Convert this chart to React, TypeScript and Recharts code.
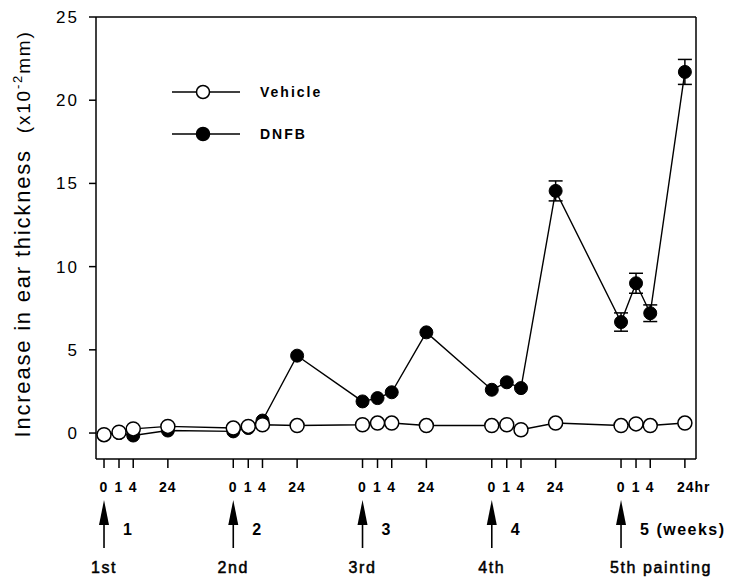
import React from "react";
import { LineChart, Line, XAxis, YAxis, ErrorBar, ReferenceLine, Legend } from "recharts";

// five weekly paintings, ear measured 0, 1, 4 and 24 hr after each one
const weeks = [1, 2, 3, 4, 5];
const hours = [0, 1, 4, 24];
// where the 0/1/4/24 hr ticks sit inside one week on the x axis (in weeks)
const hourStep = [0, 0.116, 0.226, 0.494];
const weekLabels = ["1", "2", "3", "4", "5 (weeks)"];
const paintingLabels = ["1st", "2nd", "3rd", "4th", "5th painting"];

const vehicle = [-0.1, 0.05, 0.25, 0.4, 0.3, 0.4, 0.5, 0.45, 0.5, 0.6, 0.6, 0.45, 0.45, 0.5, 0.2, 0.6, 0.45, 0.55, 0.45, 0.6];
const dnfb = [-0.1, 0.0, -0.15, 0.15, 0.1, 0.3, 0.75, 4.65, 1.9, 2.1, 2.45, 6.05, 2.6, 3.05, 2.7, 14.55, 6.67, 9.0, 7.2, 21.7];
const dnfbSem = [null, null, null, null, null, null, null, null, null, null, null, null, null, null, null, 0.6, 0.55, 0.6, 0.5, 0.75];

const yTicks = [0, 5, 10, 15, 20, 25];

const xTicks = weeks.flatMap((w) => hourStep.map((h) => w + h));
const data = xTicks.map((x, i) => ({ x, vehicle: vehicle[i], dnfb: dnfb[i], sem: dnfbSem[i] }));

const FONT = "'Liberation Sans', Arial, Helvetica, sans-serif";

function HourTick(props: any) {
  const { x, y, index } = props;
  const hr = hours[index % hours.length];
  const wk = Math.floor(index / hours.length);
  const isLast = index === xTicks.length - 1;
  const painting = paintingLabels[wk];
  return (
    <g fontFamily={FONT} fill="#000">
      <text
        x={isLast ? x - 8 : x}
        y={y + 24}
        textAnchor={isLast ? "start" : "middle"}
        fontSize={14}
        fontWeight="bold"
        letterSpacing={1}
      >
        {isLast ? `${hr}hr` : hr}
      </text>
      {hr === 0 && (
        <g>
          <line x1={x} x2={x} y1={y + 50} y2={y + 80} stroke="#000" strokeWidth={1.6} />
          <polygon points={`${x},${y + 32} ${x - 5},${y + 57} ${x + 5},${y + 57}`} fill="#000" />
          <text x={x + 19} y={y + 67} fontSize={16} fontWeight="bold" letterSpacing={1.5}>
            {weekLabels[wk]}
          </text>
          <text
            x={painting.includes(" ") ? x - 11 : x}
            y={y + 105}
            textAnchor={painting.includes(" ") ? "start" : "middle"}
            fontSize={16}
            stroke="#000"
            strokeWidth={0.5}
            letterSpacing={1.6}
          >
            {painting}
          </text>
        </g>
      )}
    </g>
  );
}

function YTitle(props: any) {
  const { viewBox } = props;
  const cx = viewBox.x - 6;
  const cy = viewBox.y + viewBox.height / 2 - 4;
  return (
    <text
      transform={`translate(${cx}, ${cy}) rotate(-90)`}
      textAnchor="middle"
      fontFamily={FONT}
      fontSize={22}
      letterSpacing={1.8}
      fill="#000"
    >
      <tspan>Increase in ear thickness</tspan>
      <tspan dx={16} fontSize={19}>(x10</tspan>
      <tspan dy={-8} fontSize={13}>-2</tspan>
      <tspan dy={8} fontSize={19}>mm)</tspan>
    </text>
  );
}

const legendItems = [
  { name: "Vehicle", fill: "#fff" },
  { name: "DNFB", fill: "#000" },
];

function LegendBox() {
  return (
    <svg width={170} height={60} style={{ overflow: "visible" }}>
      {legendItems.map((s, i) => (
        <g key={s.name} transform={`translate(0, ${12 + i * 42})`}>
          <line x1={7} x2={75} y1={0} y2={0} stroke="#000" strokeWidth={1.3} />
          <circle cx={38} cy={0} r={6.5} fill={s.fill} stroke="#000" strokeWidth={1.5} />
          <text x={95} y={0} dy="0.35em" fontFamily={FONT} fontSize={14} fontWeight="bold" letterSpacing={2}>
            {s.name}
          </text>
        </g>
      ))}
    </svg>
  );
}

export default function App() {
  return (
    <div style={{ position: "absolute", left: 0, top: 0, width: 737, height: 584, background: "#fff" }}>
      <LineChart width={737} height={584} data={data} margin={{ top: 17, right: 41, bottom: 15, left: 36 }}>
        <XAxis
          dataKey="x"
          type="number"
          domain={[0.938, 5.58]}
          ticks={xTicks}
          interval={0}
          tick={<HourTick />}
          tickSize={9}
          tickMargin={0}
          height={110}
          stroke="#000"
          strokeWidth={1.5}
          allowDataOverflow
        />
        <YAxis
          type="number"
          domain={[-1.56, 25]}
          ticks={yTicks}
          interval={0}
          width={60}
          tickSize={7}
          tickMargin={10}
          stroke="#000"
          strokeWidth={1.5}
          tick={{ fill: "#000", fontSize: 17, fontFamily: FONT, letterSpacing: 2 }}
          label={<YTitle />}
          allowDataOverflow
        />
        <ReferenceLine y={25} stroke="#000" strokeWidth={1.5} />
        <ReferenceLine x={5.58} stroke="#000" strokeWidth={1.5} />
        <Legend
          content={<LegendBox />}
          layout="vertical"
          align="center"
          verticalAlign="middle"
          wrapperStyle={{ top: 80, left: 165, width: 170 }}
        />
        <Line
          dataKey="dnfb"
          name="DNFB"
          stroke="#000"
          strokeWidth={1.4}
          dot={{ r: 6.5, fill: "#000", stroke: "#000", strokeWidth: 1 }}
          isAnimationActive={false}
        >
          <ErrorBar dataKey="sem" width={7} stroke="#000" strokeWidth={1.5} direction="y" />
        </Line>
        <Line
          dataKey="vehicle"
          name="Vehicle"
          stroke="#000"
          strokeWidth={1.4}
          dot={{ r: 7, fill: "#fff", stroke: "#000", strokeWidth: 1.5 }}
          isAnimationActive={false}
        />
      </LineChart>
    </div>
  );
}
